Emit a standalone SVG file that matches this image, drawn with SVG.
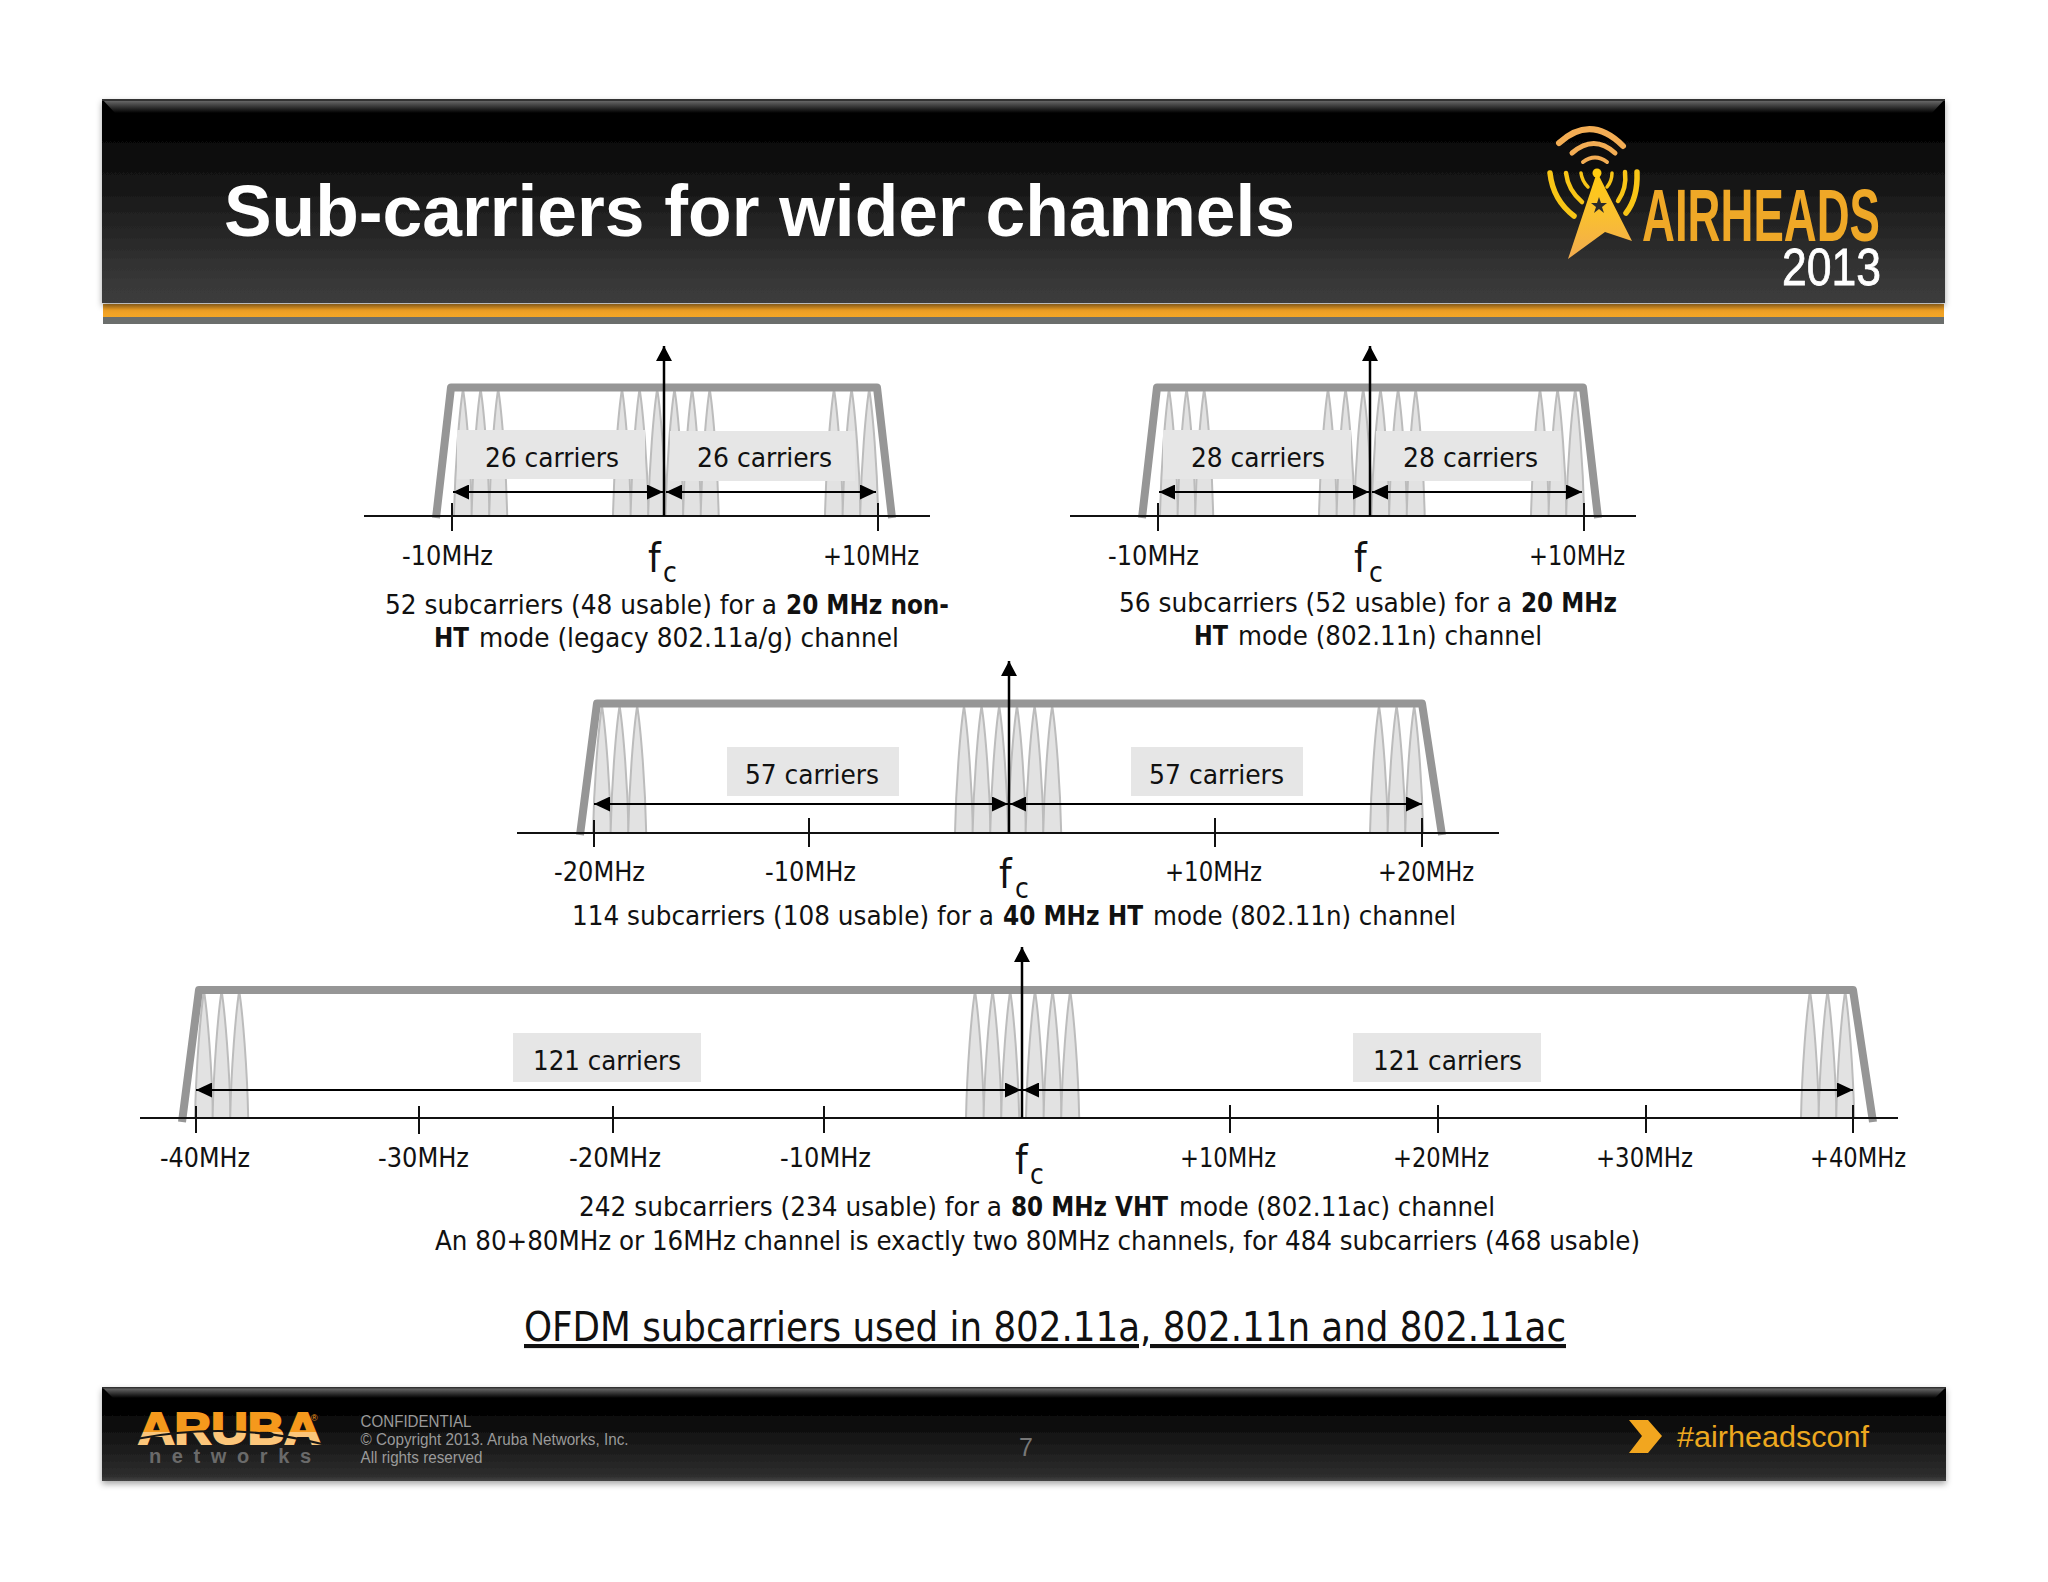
<svg xmlns="http://www.w3.org/2000/svg" xmlns:xlink="http://www.w3.org/1999/xlink" width="2048" height="1582" viewBox="0 0 2048 1582">
<defs>
<style>
text{font-family:"DejaVu Sans Condensed","DejaVu Sans",sans-serif;fill:#111}
.t{font-size:27px}
.f{font-size:40px}
.s{font-size:28px}
.b{font-weight:bold}
.h{font-family:"Liberation Sans",Arial,sans-serif}
.pk{fill:#e2e2e2;stroke:#bcbcbc;stroke-width:2}
.box{fill:#e6e6e6}
.trap{fill:none;stroke:#969696;stroke-width:8;stroke-linejoin:round}
.ax{stroke:#111;stroke-width:2;fill:none}
.arr{stroke:#000;stroke-width:2;fill:none;marker-start:url(#ah);marker-end:url(#ah)}
.up{stroke:#000;stroke-width:2.500;fill:none;marker-end:url(#uh)}
.arc{fill:none;stroke-linecap:round}
.foot{font-size:16.500px;fill:#9a9a9a}
</style>
<marker id="ah" viewBox="0 0 16 15" refX="16" refY="7.500" markerWidth="16" markerHeight="15" markerUnits="userSpaceOnUse" orient="auto-start-reverse"><path d="M0 0L16 7.500L0 15Z" fill="#000"/></marker>
<marker id="uh" viewBox="0 0 16 16" refX="15" refY="8" markerWidth="16" markerHeight="16" markerUnits="userSpaceOnUse" orient="auto"><path d="M0 0L15 8L0 16Z" fill="#000"/></marker>
<path id="pk" class="pk" d="M-9 0C-8-50-3.500-105 0-127C3.500-105 8-50 9 0Z"/>
<g id="tri"><use xlink:href="#pk" href="#pk"/><use xlink:href="#pk" href="#pk" x="17.600"/><use xlink:href="#pk" href="#pk" x="35.200"/></g>
<linearGradient id="hg" x1="0" y1="0" x2="0" y2="1"><stop offset="0" stop-color="#000"/><stop offset=".12" stop-color="#000"/><stop offset=".4" stop-color="#141414"/><stop offset=".9" stop-color="#383838"/><stop offset="1" stop-color="#3c3c3c"/></linearGradient>
<linearGradient id="bv" x1="0" y1="0" x2="0" y2="1"><stop offset="0" stop-color="#777"/><stop offset="1" stop-color="#000"/></linearGradient>
<linearGradient id="fg" x1="0" y1="0" x2="0" y2="1"><stop offset="0" stop-color="#000"/><stop offset=".2" stop-color="#000"/><stop offset=".95" stop-color="#2e2e2e"/><stop offset="1" stop-color="#444"/></linearGradient>
<linearGradient id="or" x1="0" y1="0" x2="0" y2="1"><stop offset="0" stop-color="#b57a20"/><stop offset=".45" stop-color="#f0a024"/><stop offset="1" stop-color="#f4a726"/></linearGradient>
<linearGradient id="ant" x1="0" y1="0" x2="0" y2="1"><stop offset="0" stop-color="#ffcb0f"/><stop offset=".5" stop-color="#f9c030"/><stop offset="1" stop-color="#f2ab50"/></linearGradient>
<linearGradient id="ar" gradientUnits="userSpaceOnUse" x1="0" y1="1412" x2="0" y2="1445"><stop offset=".62" stop-color="#f5991c"/><stop offset=".62" stop-color="#fcc67a"/></linearGradient>
<filter id="sh" x="-2%" y="-10%" width="104%" height="125%"><feDropShadow dx="0" dy="3" stdDeviation="3" flood-color="#000" flood-opacity=".35"/></filter>
</defs>
<rect width="2048" height="1582" fill="#fff"/>

<g id="header">
<rect x="103" y="304" width="1841" height="14" fill="url(#or)"/>
<rect x="103" y="317" width="1841" height="7" fill="#6b6e6c"/>
<rect x="102" y="99" width="1843" height="204" fill="url(#hg)" filter="url(#sh)"/>
<polygon points="102,99 1945,99 1932,113 115,113" fill="url(#bv)"/>
<rect x="102" y="99" width="1843" height="2" fill="#333"/>
<text class="h b" x="224" y="236" font-size="72" textLength="1071" lengthAdjust="spacingAndGlyphs" style="fill:#fff">Sub-carriers for wider channels</text>
</g>

<g id="airheads-logo">
<path class="arc" stroke="#f3ad54" stroke-width="4" d="M1583 162Q1595 153 1607 162"/>
<path class="arc" stroke="#f3ad54" stroke-width="5" d="M1572 153Q1594 134 1615 153"/>
<path class="arc" stroke="#f3ad54" stroke-width="6" d="M1559 143Q1591 114 1623 146"/>
<path class="arc" stroke="#f8c516" stroke-width="5.500" d="M1550 173Q1553 200 1574 216"/>
<path class="arc" stroke="#f8c516" stroke-width="4.500" d="M1566 173Q1568 190 1582 202"/>
<path class="arc" stroke="#f8c516" stroke-width="3.500" d="M1581 173Q1582 181 1588 187"/>
<path class="arc" stroke="#f8c516" stroke-width="5.500" d="M1637 172Q1638 198 1626 213"/>
<path class="arc" stroke="#f8c516" stroke-width="4.500" d="M1625 172Q1627 188 1618 201"/>
<path class="arc" stroke="#f8c516" stroke-width="3.500" d="M1612 173Q1612 181 1607 187"/>
<polygon points="1597,172 1632,241 1605,232 1568,259" fill="url(#ant)"/>
<circle cx="1597" cy="173" r="4.500" fill="#ffcb0f"/>
<polygon points="1599,197 1601,203 1607,203 1602,207 1604,213 1599,209 1594,213 1596,207 1591,203 1597,203" fill="#2a2a2a"/>
<text class="h b" x="1642" y="241" font-size="75" textLength="238" lengthAdjust="spacingAndGlyphs" style="fill:#efa827">AIRHEADS</text>
<text class="h" x="1782" y="285" font-size="52" textLength="99" lengthAdjust="spacingAndGlyphs" stroke="#fff" stroke-width=".8" style="fill:#fff">2013</text>
</g>

<g id="diagram-20-nonht">
<use xlink:href="#tri" href="#tri" x="463" y="516"/><use xlink:href="#tri" href="#tri" x="622" y="516"/><use xlink:href="#tri" href="#tri" x="674.500" y="516"/><use xlink:href="#tri" href="#tri" x="834" y="516"/>
<rect class="box" x="457" y="430" width="188" height="49"/><rect class="box" x="670" y="431" width="185" height="50"/>
<path class="trap" d="M436 518L451 387.500H877L892 518"/>
<text class="t" x="485" y="467" textLength="134" lengthAdjust="spacingAndGlyphs">26 carriers</text>
<text class="t" x="697" y="467" textLength="135" lengthAdjust="spacingAndGlyphs">26 carriers</text>
<text class="t" x="402" y="565" textLength="91" lengthAdjust="spacingAndGlyphs">-10MHz</text>
<text class="t" x="823" y="565" textLength="96" lengthAdjust="spacingAndGlyphs">+10MHz</text>
<text class="f" x="648" y="572">f</text><text class="s" x="663" y="582">c</text>
<text class="t" y="614"><tspan x="385" textLength="392" lengthAdjust="spacingAndGlyphs">52 subcarriers (48 usable) for a</tspan> <tspan class="b" x="786" textLength="163" lengthAdjust="spacingAndGlyphs">20 MHz non-</tspan></text>
<text class="t" y="647"><tspan class="b" x="434" textLength="35" lengthAdjust="spacingAndGlyphs">HT</tspan> <tspan x="479" textLength="420" lengthAdjust="spacingAndGlyphs">mode (legacy 802.11a/g) channel</tspan></text>
</g>

<g id="diagram-20-ht">
<use xlink:href="#tri" href="#tri" x="1169" y="516"/><use xlink:href="#tri" href="#tri" x="1328" y="516"/><use xlink:href="#tri" href="#tri" x="1380.500" y="516"/><use xlink:href="#tri" href="#tri" x="1540" y="516"/>
<rect class="box" x="1163" y="430" width="188" height="49"/><rect class="box" x="1376" y="431" width="185" height="50"/>
<path class="trap" d="M1142 518L1157 387.500H1583L1598 518"/>
<text class="t" x="1191" y="467" textLength="134" lengthAdjust="spacingAndGlyphs">28 carriers</text>
<text class="t" x="1403" y="467" textLength="135" lengthAdjust="spacingAndGlyphs">28 carriers</text>
<text class="t" x="1108" y="565" textLength="91" lengthAdjust="spacingAndGlyphs">-10MHz</text>
<text class="t" x="1529" y="565" textLength="96" lengthAdjust="spacingAndGlyphs">+10MHz</text>
<text class="f" x="1354" y="572">f</text><text class="s" x="1369" y="582">c</text>
<text class="t" y="612"><tspan x="1119" textLength="393" lengthAdjust="spacingAndGlyphs">56 subcarriers (52 usable) for a</tspan> <tspan class="b" x="1521" textLength="96" lengthAdjust="spacingAndGlyphs">20 MHz</tspan></text>
<text class="t" y="645"><tspan class="b" x="1194" textLength="34" lengthAdjust="spacingAndGlyphs">HT</tspan> <tspan x="1238" textLength="304" lengthAdjust="spacingAndGlyphs">mode (802.11n) channel</tspan></text>
</g>

<g id="diagram-40-ht">
<use xlink:href="#tri" href="#tri" x="602" y="833"/><use xlink:href="#tri" href="#tri" x="964" y="833"/><use xlink:href="#tri" href="#tri" x="1017" y="833"/><use xlink:href="#tri" href="#tri" x="1379" y="833"/>
<rect class="box" x="727" y="747" width="172" height="49"/><rect class="box" x="1131" y="747" width="172" height="49"/>
<path class="trap" d="M580 835L597 703.500H1422L1442 835"/>
<text class="t" x="745" y="784" textLength="134" lengthAdjust="spacingAndGlyphs">57 carriers</text>
<text class="t" x="1149" y="784" textLength="135" lengthAdjust="spacingAndGlyphs">57 carriers</text>
<text class="t" x="554" y="881" textLength="91" lengthAdjust="spacingAndGlyphs">-20MHz</text>
<text class="t" x="765" y="881" textLength="91" lengthAdjust="spacingAndGlyphs">-10MHz</text>
<text class="t" x="1165" y="881" textLength="97" lengthAdjust="spacingAndGlyphs">+10MHz</text>
<text class="t" x="1378" y="881" textLength="96" lengthAdjust="spacingAndGlyphs">+20MHz</text>
<text class="f" x="999" y="888">f</text><text class="s" x="1015" y="898">c</text>
<text class="t" y="925"><tspan x="572" textLength="422" lengthAdjust="spacingAndGlyphs">114 subcarriers (108 usable) for a</tspan> <tspan class="b" x="1003" textLength="140" lengthAdjust="spacingAndGlyphs">40 MHz HT</tspan> <tspan x="1153" textLength="303" lengthAdjust="spacingAndGlyphs">mode (802.11n) channel</tspan></text>
</g>

<g id="diagram-80-vht">
<use xlink:href="#tri" href="#tri" x="204" y="1118"/><use xlink:href="#tri" href="#tri" x="975" y="1118"/><use xlink:href="#tri" href="#tri" x="1035" y="1118"/><use xlink:href="#tri" href="#tri" x="1810" y="1118"/>
<rect class="box" x="513" y="1033" width="188" height="49"/><rect class="box" x="1353" y="1033" width="188" height="49"/>
<path class="trap" d="M182 1122L199 990H1853L1873 1122"/>
<text class="t" x="533" y="1070" textLength="148" lengthAdjust="spacingAndGlyphs">121 carriers</text>
<text class="t" x="1373" y="1070" textLength="149" lengthAdjust="spacingAndGlyphs">121 carriers</text>
<text class="t" x="160" y="1167" textLength="90" lengthAdjust="spacingAndGlyphs">-40MHz</text>
<text class="t" x="378" y="1167" textLength="91" lengthAdjust="spacingAndGlyphs">-30MHz</text>
<text class="t" x="569" y="1167" textLength="92" lengthAdjust="spacingAndGlyphs">-20MHz</text>
<text class="t" x="780" y="1167" textLength="91" lengthAdjust="spacingAndGlyphs">-10MHz</text>
<text class="t" x="1180" y="1167" textLength="96" lengthAdjust="spacingAndGlyphs">+10MHz</text>
<text class="t" x="1393" y="1167" textLength="96" lengthAdjust="spacingAndGlyphs">+20MHz</text>
<text class="t" x="1596" y="1167" textLength="97" lengthAdjust="spacingAndGlyphs">+30MHz</text>
<text class="t" x="1810" y="1167" textLength="96" lengthAdjust="spacingAndGlyphs">+40MHz</text>
<text class="f" x="1015" y="1174">f</text><text class="s" x="1030" y="1184">c</text>
<text class="t" y="1216"><tspan x="579" textLength="423" lengthAdjust="spacingAndGlyphs">242 subcarriers (234 usable) for a</tspan> <tspan class="b" x="1011" textLength="157" lengthAdjust="spacingAndGlyphs">80 MHz VHT</tspan> <tspan x="1179" textLength="316" lengthAdjust="spacingAndGlyphs">mode (802.11ac) channel</tspan></text>
<text class="t" x="435" y="1250" textLength="1205" lengthAdjust="spacingAndGlyphs">An 80+80MHz or 16MHz channel is exactly two 80MHz channels, for 484 subcarriers (468 usable)</text>
</g>

<g id="connectors">
<path class="ax" d="M364 516H930M452 503V531M878 503V531"/>
<path class="up" d="M664 516V346"/>
<path class="arr" d="M453 492H663"/><path class="arr" d="M666 492H876"/>
<path class="ax" d="M1070 516H1636M1158 503V531M1584 503V531"/>
<path class="up" d="M1370 516V346"/>
<path class="arr" d="M1159 492H1369"/><path class="arr" d="M1372 492H1582"/>
<path class="ax" d="M517 833H1499M594 820V847M809 818V847M1215 818V847M1422 818V847"/>
<path class="up" d="M1009 833V661"/>
<path class="arr" d="M594 804H1008"/><path class="arr" d="M1010 804H1422"/>
<path class="ax" d="M140 1118H1898M196 1106V1133M419 1106V1134M613 1106V1133M824 1106V1133M1230 1105V1133M1438 1105V1133M1646 1105V1133M1853 1105V1133"/>
<path class="up" d="M1022 1118V947"/>
<path class="arr" d="M196 1090H1021"/><path class="arr" d="M1023 1090H1853"/>
</g>

<g id="subtitle">
<text x="524" y="1341" font-size="41" text-decoration="underline" textLength="1042" lengthAdjust="spacingAndGlyphs">OFDM subcarriers used in 802.11a, 802.11n and 802.11ac</text>
</g>

<g id="footer">
<rect x="102" y="1387" width="1844" height="94" fill="url(#fg)" filter="url(#sh)"/>
<polygon points="102,1387 1946,1387 1935,1398 113,1398" fill="url(#bv)"/>
<rect x="102" y="1387" width="1844" height="1.500" fill="#333"/>
<text class="h foot" x="360.500" y="1427" textLength="111" lengthAdjust="spacingAndGlyphs">CONFIDENTIAL</text>
<text class="h foot" x="360.500" y="1445" textLength="268" lengthAdjust="spacingAndGlyphs">© Copyright 2013. Aruba Networks, Inc.</text>
<text class="h foot" x="360.500" y="1463" textLength="122" lengthAdjust="spacingAndGlyphs">All rights reserved</text>
<text class="h" x="1019" y="1456" font-size="25" style="fill:#777">7</text>
<polygon points="1629,1420 1648,1420 1662,1436 1648,1453 1629,1453 1642,1436" fill="#f2a61f"/>
<text class="h" x="1677" y="1447" font-size="30.300" textLength="192" lengthAdjust="spacingAndGlyphs" style="fill:#eda81f">#airheadsconf</text>
</g>

<g id="aruba-logo">
<text class="h b" x="138" y="1444" font-size="44" textLength="183" lengthAdjust="spacingAndGlyphs" stroke="url(#ar)" stroke-width="2" style="fill:url(#ar)">ARUBA</text>
<path d="M136 1439Q230 1421 322 1444" fill="none" stroke="#161616" stroke-width="2"/>
<text class="h" x="311" y="1421" font-size="9" style="fill:#f5991c">®</text>
<text class="h b" x="149" y="1463" font-size="20" textLength="162" style="fill:#6a6a6a">networks</text>
</g>
</svg>
